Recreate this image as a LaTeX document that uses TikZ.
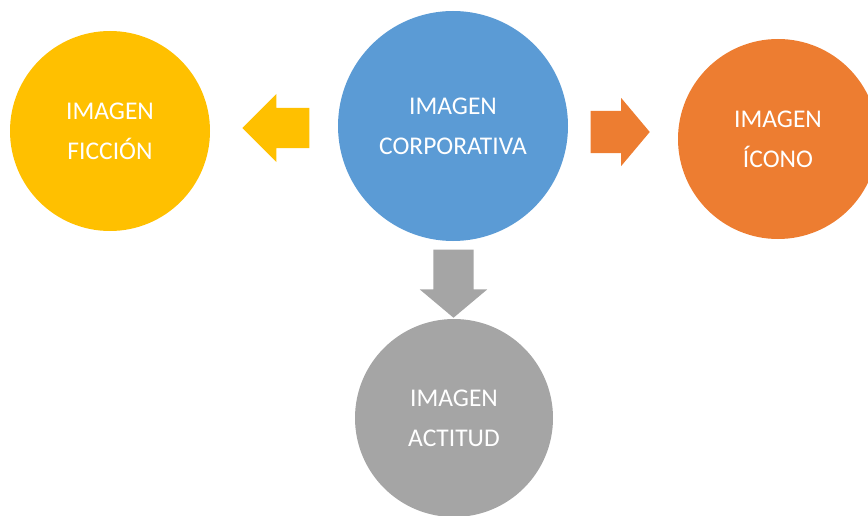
\documentclass[tikz,border=0pt]{standalone}
\usepackage{fontspec}
\setmainfont{Carlito}
\usetikzlibrary{shapes.arrows}

\definecolor{ficcion}{HTML}{FFC000}
\definecolor{corporativa}{HTML}{5B9BD5}
\definecolor{icono}{HTML}{ED7D31}
\definecolor{actitud}{HTML}{A5A5A5}

\tikzstyle{bubble} = [circle, inner sep=0pt, text=white, align=center,
	font=\fontsize{25.5}{40}\selectfont]
\tikzstyle{blockarrow} = [single arrow, inner xsep=0pt, inner ysep=20pt,
	single arrow head extend=14pt, single arrow tip angle=95, anchor=tip]

\begin{document}
\begin{tikzpicture}[x=1pt, y=-1pt]
\useasboundingbox (0,0) rectangle (868,516);
\clip (0,0) rectangle (868,516);

% circles
\node[bubble, fill=corporativa, minimum size=230pt] (corporativa) at (453,126) {IMAGEN\\CORPORATIVA};
\node[bubble, fill=ficcion, minimum size=200pt] (ficcion) at (110,131) {IMAGEN\\FICCIÓN};
\node[bubble, fill=icono, minimum size=200pt] (icono) at (778,139) {IMAGEN\\ÍCONO};
\node[bubble, fill=actitud, minimum size=198pt] (actitud) at (454,418) {IMAGEN\\ACTITUD};

% block arrows
\node[blockarrow, fill=ficcion, rotate=180, minimum height=67pt,
	single arrow tip angle=90] (haciaFiccion) at (242,128) {};
\node[blockarrow, fill=icono, inner ysep=21pt, single arrow head extend=13pt,
	minimum height=59pt, single arrow tip angle=100] (haciaIcono) at (650,132) {};
\node[blockarrow, fill=actitud, rotate=-90, minimum height=68pt,
	single arrow head extend=13.5pt, single arrow tip angle=100] (haciaActitud) at (453.5,318) {};
\end{tikzpicture}
\end{document}
